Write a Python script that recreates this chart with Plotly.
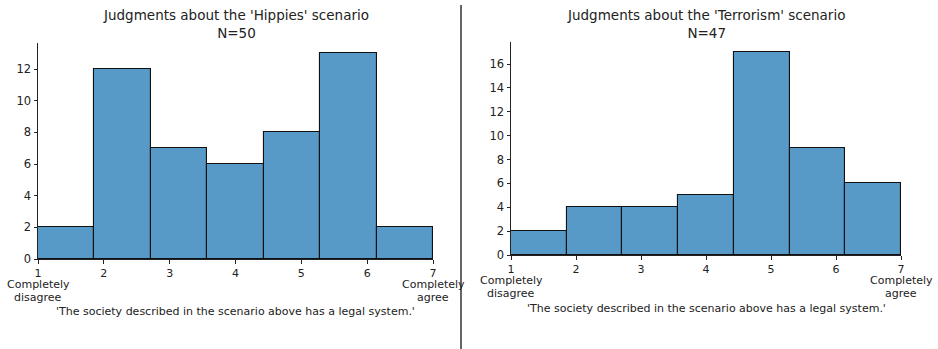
import numpy as np
import plotly.graph_objects as go

# Response counts per bin on the 1-7 agreement scale (7 equal-width bins)
hippies_counts = [2, 12, 7, 6, 8, 13, 2]
terrorism_counts = [2, 4, 4, 5, 17, 9, 6]
hippies_title = "Judgments about the 'Hippies' scenario<br>N=50"
terrorism_title = "Judgments about the 'Terrorism' scenario<br>N=47"
x_tick_vals = [1, 2, 3, 4, 5, 6, 7]
x_tick_text = ["1", "2", "3", "4", "5", "6", "7"]
low_anchor = ["Completely", "disagree"]
high_anchor = ["Completely", "agree"]
x_label = "'The society described in the scenario above has a legal system.'"

W, H = 938, 349
FONT = "DejaVu Sans"
BAR = "#5799c7"
TXT = "#222"

edges = np.linspace(1, 7, 8)
centers = (edges[:-1] + edges[1:]) / 2
width = edges[1] - edges[0]

fig = go.Figure()
for counts, xa, ya in [(hippies_counts, "x", "y"), (terrorism_counts, "x2", "y2")]:
    fig.add_trace(go.Bar(
        x=centers, y=counts, width=width, xaxis=xa, yaxis=ya,
        marker=dict(color=BAR, line=dict(color="#111111", width=1.1)),
        showlegend=False, hoverinfo="x+y",
    ))

def px_x(p):
    return p / W

def px_y(p):
    return 1 - p / H

axis_common = dict(
    showgrid=False, zeroline=False, showline=True, linecolor=TXT,
    linewidth=1, ticks="outside", ticklen=3.5, tickwidth=1, tickcolor=TXT,
    automargin=False,
)
x_font = dict(family=FONT, size=11, color=TXT)
y_font = dict(family=FONT, size=11.5, color=TXT)

fig.update_layout(
    width=W, height=H, margin=dict(l=0, r=0, t=0, b=0),
    plot_bgcolor="white", paper_bgcolor="white", bargap=0,
    xaxis=dict(domain=[px_x(38), px_x(433)], range=[1, 7], anchor="y",
               tickvals=x_tick_vals, ticktext=x_tick_text, tickfont=x_font, **axis_common),
    yaxis=dict(domain=[px_y(259), px_y(43)], range=[0, 13 * 1.05], anchor="x",
               dtick=2, tickfont=y_font, **axis_common),
    xaxis2=dict(domain=[px_x(511), px_x(901)], range=[1, 7], anchor="y2",
                tickvals=x_tick_vals, ticktext=x_tick_text, tickfont=x_font, **axis_common),
    yaxis2=dict(domain=[px_y(255), px_y(42)], range=[0, 17 * 1.05], anchor="x2",
                dtick=2, tickfont=y_font, **axis_common),
)

def text_at(text, x, y, xref="paper", size=11.5):
    fig.add_annotation(text=text, x=x, y=px_y(y), xref=xref, yref="paper",
                       showarrow=False, xanchor="center", yanchor="middle",
                       font=dict(family=FONT, size=size, color=TXT))

# Panel titles, scale-end descriptions and x-axis captions
panels = [(hippies_title, 235.5, "x", 259, 311), (terrorism_title, 706, "x2", 255, 308)]
for title, cx, xa, base, ly in panels:
    text_at(title, px_x(cx), 24, size=13.5)
    for i, word in enumerate(low_anchor):
        text_at(word, x_tick_vals[0], base + 25.5 + 13 * i, xref=xa, size=11)
    for i, word in enumerate(high_anchor):
        text_at(word, x_tick_vals[-1], base + 25.5 + 13 * i, xref=xa, size=11)
    text_at(x_label, px_x(cx), ly, size=11)

# Vertical divider between the two panels
fig.add_shape(type="line", xref="paper", yref="paper",
              x0=px_x(461), x1=px_x(461), y0=px_y(5), y1=0,
              line=dict(color="#333", width=1.5))

fig.write_html("out.html")
